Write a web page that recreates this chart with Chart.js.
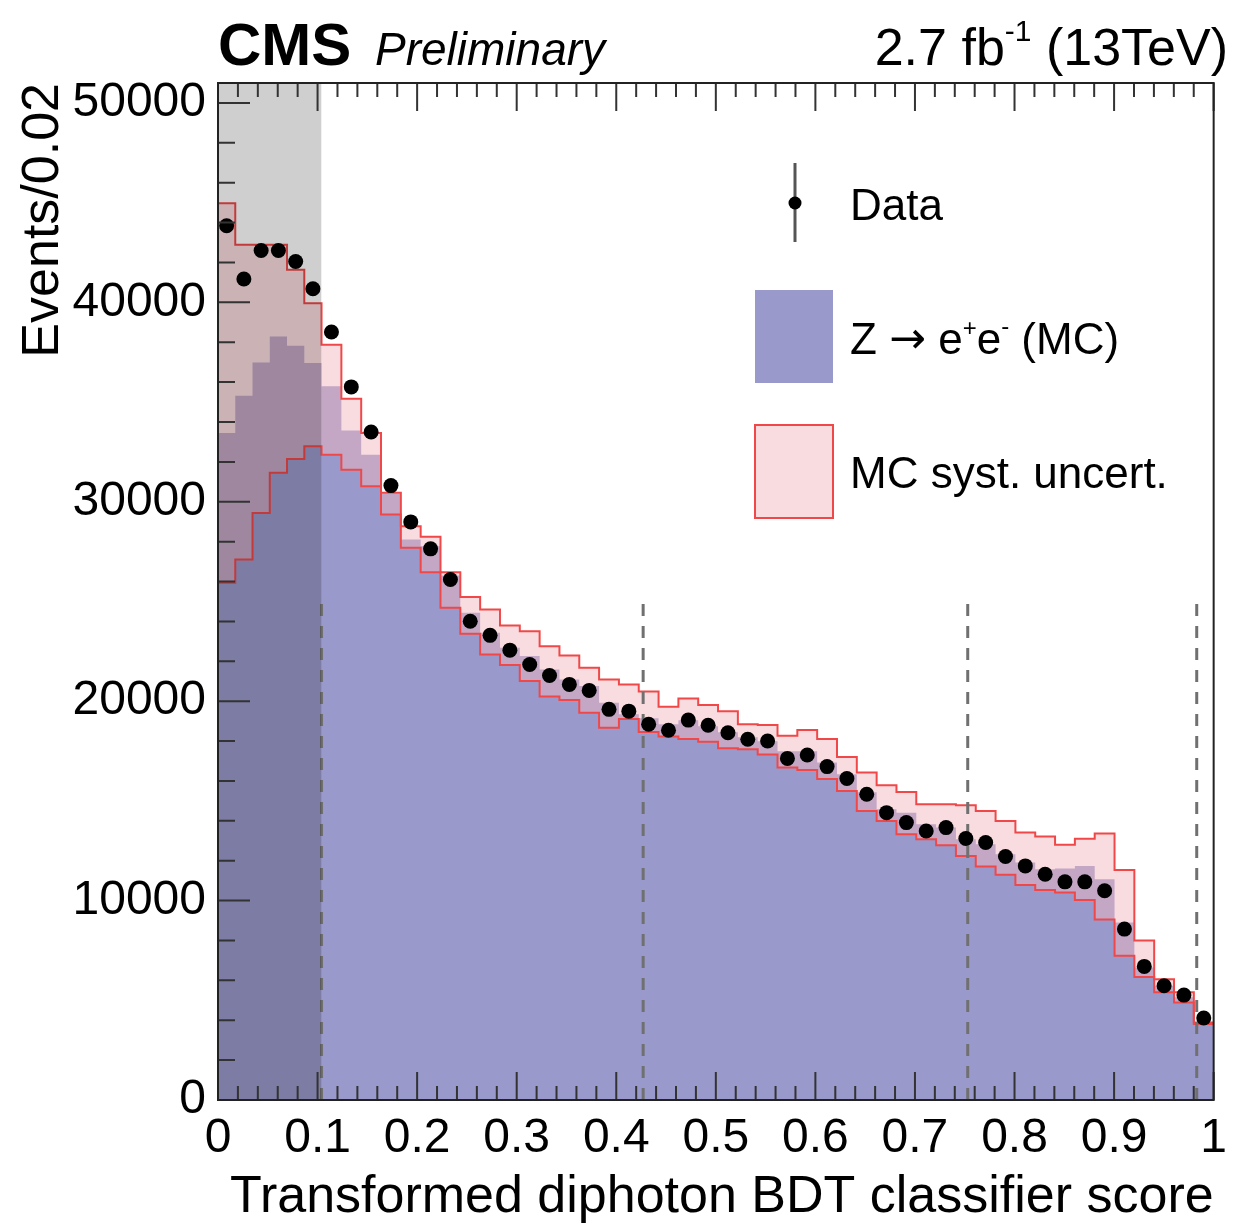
<!DOCTYPE html>
<html>
<head>
<meta charset="utf-8">
<script src="https://cdn.jsdelivr.net/npm/chart.js@4.4.0/dist/chart.umd.min.js"></script>
<style>
  html, body { margin: 0; padding: 0; background: #fff; }
  #wrap { width: 1237px; height: 1224px; }
</style>
</head>
<body>
<div id="wrap"><canvas id="c" width="1237" height="1224"></canvas></div>
<script>
// first category boundary; 6 narrow bins below it, 45 bins above it
const grayEdge = 0.104;
const categoryCuts = [0.104, 0.427, 0.753, 0.983];
const cutHeight = 25000;
const yMax = 51000;

const xTickValues = [0, 0.1, 0.2, 0.3, 0.4, 0.5, 0.6, 0.7, 0.8, 0.9, 1];
const xTickLabels = ['0', '0.1', '0.2', '0.3', '0.4', '0.5', '0.6', '0.7', '0.8', '0.9', '1'];
const yTickValues = [0, 10000, 20000, 30000, 40000, 50000];

const dataEvents = [
  43840, 41170, 42600, 42600, 42050, 40680, 38510, 35760, 33500, 30810, 28990,
  27640, 26100, 24010, 23300, 22560, 21840, 21290, 20840, 20540, 19590,
  19500, 18840, 18540, 19050, 18790, 18420, 18090, 18000, 17130, 17300,
  16720, 16120, 15330, 14410, 13910, 13490, 13660, 13110, 12910, 12210,
  11740, 11320, 10940, 10940, 10490, 8570, 6700, 5730, 5260, 4110
];
const mcNominal = [
  33450, 35320, 36990, 38290, 37830, 36960, 35790, 33580, 32360, 30400, 28110,
  27770, 26300, 24430, 23430, 22680, 22260, 21590, 21090, 20760, 19920,
  19340, 19140, 18840, 19040, 18740, 18440, 18190, 17990, 17490, 17490,
  16930, 16330, 15430, 14580, 14410, 13830, 13660, 13080, 12830, 12320,
  11910, 11570, 11610, 11740, 11070, 8900, 6650, 5730, 5150, 3830
];
const mcSystUp = [
  44970, 42890, 42890, 42890, 41630, 39960, 37880, 35160, 33450, 30450, 28770,
  28240, 26470, 25230, 24600, 23800, 23510, 22760, 22290, 21680, 21090,
  20840, 20490, 19720, 20130, 19810, 19500, 18840, 18810, 18270, 18550,
  18100, 17200, 16420, 15780, 15450, 14830, 14830, 14780, 14490, 13990,
  13410, 13220, 12800, 13100, 13360, 11530, 8000, 6060, 5400, 3890
];
const mcSystDown = [
  25940, 27100, 29440, 31450, 32150, 32780, 32360, 31610, 30780, 29360, 27690,
  26470, 24680, 23380, 22340, 21810, 21010, 20230, 20060, 19420, 18670,
  19100, 18450, 18230, 18100, 17960, 17640, 17590, 17330, 16670, 16550,
  16100, 15500, 14490, 13990, 13330, 13080, 12780, 12240, 11710, 11300,
  10780, 10530, 10410, 10030, 9050, 7240, 6170, 5400, 4890, 3810
];

const FONT = '"Liberation Sans", Arial, Helvetica, sans-serif';
const BLUE = '#9999cc';
const PINK = 'rgba(243,182,190,0.48)';
const RED = '#f04848';

// bin edges
const edges = [];
for (let i = 0; i <= 6; i++) edges.push(grayEdge * i / 6);
for (let j = 1; j <= 45; j++) edges.push(grayEdge + (1 - grayEdge) * j / 45);
const centers = edges.slice(0, -1).map((e, i) => (e + edges[i + 1]) / 2);

function steps(vals) {
  const pts = [];
  vals.forEach((v, i) => {
    pts.push({ x: edges[i], y: v }, { x: edges[i + 1], y: v });
  });
  return pts;
}

const cutSets = categoryCuts.map(c => ({
  data: [{ x: c, y: 0 }, { x: c, y: cutHeight }],
  borderColor: '#707070',
  borderWidth: 3,
  borderDash: [12, 10],
  pointRadius: 0,
  fill: false,
  order: 2
}));

const decor = {
  id: 'decor',
  afterDraw(chart) {
    const { ctx, chartArea: a, scales: { x, y } } = chart;
    ctx.save();
    // ROOT style ticks inside the frame
    ctx.strokeStyle = '#333';
    ctx.lineWidth = 2;
    ctx.beginPath();
    for (let k = 0; k <= 50; k++) {
      const px = x.getPixelForValue(k * 0.02);
      const len = k % 5 === 0 ? 28 : 14;
      ctx.moveTo(px, a.bottom); ctx.lineTo(px, a.bottom - len);
      ctx.moveTo(px, a.top); ctx.lineTo(px, a.top + len);
    }
    for (let v = 0; v <= 50000; v += 2000) {
      const py = y.getPixelForValue(v);
      const len = v % 10000 === 0 ? 32 : 17;
      ctx.moveTo(a.left, py); ctx.lineTo(a.left + len, py);
    }
    ctx.stroke();
    ctx.strokeStyle = '#222';
    ctx.strokeRect(a.left, a.top, a.right - a.left, a.bottom - a.top);

    // header
    ctx.fillStyle = '#000';
    ctx.textBaseline = 'alphabetic';
    ctx.textAlign = 'left';
    ctx.font = 'bold 60px ' + FONT;
    ctx.fillText('CMS', a.left, 65);
    ctx.font = 'italic 46px ' + FONT;
    ctx.fillText('Preliminary', a.left + 157, 65);

    // lumi text, right aligned
    ctx.textAlign = 'right';
    let rx = 1228;
    ctx.font = '52px ' + FONT;
    ctx.fillText(' (13TeV)', rx, 65);
    rx -= ctx.measureText(' (13TeV)').width;
    ctx.font = '30px ' + FONT;
    ctx.fillText('-1', rx, 41);
    rx -= ctx.measureText('-1').width;
    ctx.font = '52px ' + FONT;
    ctx.fillText('2.7 fb', rx, 65);

    // legend
    ctx.textAlign = 'left';
    ctx.strokeStyle = '#555';
    ctx.lineWidth = 3;
    ctx.beginPath();
    ctx.moveTo(795, 163); ctx.lineTo(795, 242);
    ctx.stroke();
    ctx.fillStyle = '#000';
    ctx.beginPath();
    ctx.arc(795, 203, 6.5, 0, Math.PI * 2);
    ctx.fill();

    ctx.fillStyle = BLUE;
    ctx.fillRect(755, 290, 78, 93);
    ctx.fillStyle = 'rgb(249,220,224)';
    ctx.fillRect(755, 425, 78, 93);
    ctx.strokeStyle = RED;
    ctx.lineWidth = 2;
    ctx.strokeRect(755, 425, 78, 93);

    ctx.fillStyle = '#000';
    ctx.font = '44px ' + FONT;
    ctx.fillText('Data', 850, 220);

    let lx = 850;
    const seg = (t, size, dy, fam) => {
      ctx.font = size + 'px ' + (fam || FONT);
      ctx.fillText(t, lx, 354 + dy);
      lx += ctx.measureText(t).width;
    };
    seg('Z ', 44, 0);
    seg('\u2192', 44, -1, '"DejaVu Sans", sans-serif');
    seg(' e', 44, 0);
    seg('+', 24, -18);
    seg('e', 44, 0);
    seg('-', 24, -20);
    seg(' (MC)', 44, 0);

    ctx.font = '44px ' + FONT;
    ctx.fillText('MC syst. uncert.', 850, 488);
    ctx.restore();
  }
};

Chart.defaults.font.family = FONT;
Chart.defaults.color = '#000';

new Chart(document.getElementById('c'), {
  type: 'line',
  data: {
    datasets: [
      {
        label: 'Data',
        data: dataEvents.map((v, i) => ({ x: centers[i], y: v })),
        showLine: false,
        pointRadius: 7.5,
        pointBackgroundColor: '#000',
        pointBorderWidth: 0,
        order: 0
      },
      {
        label: 'gray',
        data: [{ x: 0, y: yMax }, { x: grayEdge, y: yMax }],
        fill: 'origin',
        backgroundColor: 'rgba(0,0,0,0.19)',
        borderColor: 'rgba(0,0,0,0)',
        borderWidth: 0,
        pointRadius: 0,
        order: 1
      },
      ...cutSets,
      {
        label: 'MC syst. uncert.',
        data: steps(mcSystUp),
        fill: '+1',
        backgroundColor: PINK,
        borderColor: RED,
        borderWidth: 2,
        pointRadius: 0,
        order: 3.5
      },
      {
        label: 'syst down',
        data: steps(mcSystDown),
        fill: false,
        borderColor: RED,
        borderWidth: 2,
        pointRadius: 0,
        order: 3
      },
      {
        label: 'Z to ee (MC)',
        data: steps(mcNominal),
        fill: 'origin',
        backgroundColor: BLUE,
        borderColor: 'rgba(0,0,0,0)',
        borderWidth: 0,
        pointRadius: 0,
        order: 4
      }
    ]
  },
  options: {
    responsive: false,
    animation: false,
    layout: { padding: { left: 0, top: 83, right: 20, bottom: 0 } },
    plugins: { legend: { display: false }, tooltip: { enabled: false } },
    elements: { line: { tension: 0 } },
    scales: {
      x: {
        type: 'linear',
        min: 0,
        max: 1,
        afterFit: s => { s.height = 124; },
        afterBuildTicks: s => { s.ticks = xTickValues.map(v => ({ value: v })); },
        grid: { display: false, drawTicks: false },
        border: { display: false },
        ticks: {
          padding: 10,
          maxRotation: 0,
          autoSkip: false,
          font: { size: 48 },
          callback: (v, i) => xTickLabels[i]
        },
        title: {
          display: true,
          text: 'Transformed diphoton BDT classifier score',
          align: 'end',
          font: { size: 52, lineHeight: 1.0 },
          padding: { top: 0, bottom: 0 }
        }
      },
      y: {
        min: 0,
        max: yMax,
        afterFit: s => { s.width = 218; },
        afterBuildTicks: s => { s.ticks = yTickValues.map(v => ({ value: v })); },
        grid: { display: false, drawTicks: false },
        border: { display: false },
        ticks: {
          padding: 12,
          font: { size: 48 },
          callback: v => String(v)
        },
        title: {
          display: true,
          text: 'Events/0.02',
          align: 'end',
          font: { size: 52 },
          padding: { top: 12, bottom: 0 }
        }
      }
    }
  },
  plugins: [decor]
});
</script>
</body>
</html>
